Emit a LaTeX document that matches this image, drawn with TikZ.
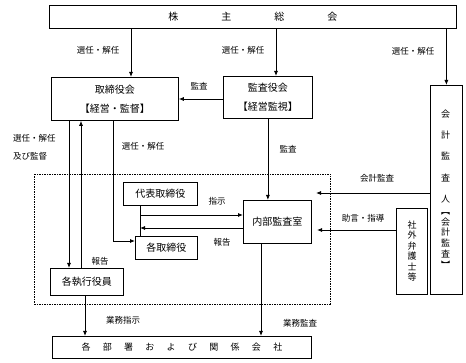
\documentclass[tikz,border=0pt]{standalone}
\usepackage{fontspec}
\newfontfamily\cjk{Noto Sans CJK JP}
\usetikzlibrary{arrows.meta,calc}
\begin{document}
\begin{tikzpicture}[x=1pt,y=-1pt,
  box/.style={draw,line width=0.8pt,inner sep=0pt,anchor=north west,font=\cjk\fontsize{10}{19}\selectfont,align=center},
  lbl/.style={font=\cjk\fontsize{8.5}{10}\selectfont,inner sep=0pt},
  arr/.style={line width=0.8pt,-{Latex[length=5pt,width=4pt]}},
  ln/.style={line width=0.8pt},
  dashbox/.style={line width=0.6pt,dash pattern=on 1.5pt off 1pt}]
\useasboundingbox (0,0) rectangle (466,363);
% boxes
\node[box,minimum width=407pt,minimum height=23pt] (top) at (49,5) {株\hspace{43pt}主\hspace{43pt}総\hspace{43pt}会};
\node[box,minimum width=127pt,minimum height=43pt] (board) at (51,77) {取締役会\\【経営・監督】};
\node[box,minimum width=89pt,minimum height=42pt] (kansa) at (223,76) {監査役会\\【経営監視】};
\node[box,minimum width=32pt,minimum height=209pt] (aud) at (430,85) {};
\node[box,minimum width=31pt,minimum height=86pt] (law) at (396,208) {};
\node[box,minimum width=68pt,minimum height=43pt] (naibu) at (243,200) {内部監査室};
\node[box,minimum width=74pt,minimum height=23pt] (daihyo) at (123,182) {代表取締役};
\node[box,minimum width=62pt,minimum height=23pt] (kaku) at (135,236) {各取締役};
\node[box,minimum width=73pt,minimum height=27pt] (shik) at (50,268) {各執行役員};
\node[box,minimum width=259pt,minimum height=22pt,font=\cjk\fontsize{9}{10}\selectfont] (dept) at (52,336)
  {各\hspace{12.3pt}部\hspace{12.3pt}署\hspace{12.3pt}お\hspace{12.3pt}よ\hspace{12.3pt}び\hspace{12.3pt}関\hspace{12.3pt}係\hspace{12.3pt}会\hspace{12.3pt}社};
\draw[dashbox] (34,174) rectangle (330,304);
% vertical texts
\node[font=\cjk\fontsize{9}{10.8}\selectfont,align=center,inner sep=0pt] (audtxt) at (445.5,189)
  {会\\[10.5pt]計\\[10.5pt]監\\[10.5pt]査\\[10.5pt]人\\[1pt]︻\\会\\計\\監\\査\\︼};
\node[font=\cjk\fontsize{9}{10.5}\selectfont,align=center,inner sep=0pt] (lawtxt) at (412,251)
  {社\\外\\弁\\護\\士\\等};
% helper coordinates
\coordinate (x131) at (131,0);
\coordinate (x276) at (276,0);
\coordinate (x113) at (113,0);
\coordinate (x69) at (69,0);
\coordinate (x81) at (81,0);
\coordinate (x85) at (85,0);
\coordinate (x261) at (261,0);
\coordinate (x140) at (140,0);
\coordinate (y99) at (0,99);
\coordinate (y193) at (0,193);
\coordinate (y230) at (0,230);
\coordinate (y241) at (0,241);
\coordinate (y215) at (0,215);
\coordinate (y228) at (0,228);
\coordinate (e1) at (316,193);
\coordinate (e2) at (317,230);
% connectors
\draw[arr] (top.south -| x131) -- (board.north -| x131);
\draw[arr] (top.south -| x276) -- (kansa.north -| x276);
\draw[arr] (top.south -| aud.north) -- (aud.north);
\draw[arr] (kansa.west |- y99) -- (board.east |- y99);
\draw[arr] (kansa.south) -- (kansa.south |- naibu.north);
\draw[arr] (aud.west |- y193) -- (e1);
\draw[arr] (law.west |- y230) -- (e2);
\draw[arr] (board.south -| x113) -- (x113 |- y241) -- (kaku.west |- y241);
\draw[arr] (board.south -| x69) -- (shik.north -| x69);
\draw[arr] (shik.north -| x81) -- (board.south -| x81);
\draw[arr] (shik.south -| x85) -- (dept.north -| x85);
\draw[arr] (naibu.south -| x261) -- (dept.north -| x261);
\draw[ln] (daihyo.south -| x140) -- (kaku.north -| x140);
\draw[arr] (x140 |- y215) -- (naibu.west |- y215);
\draw[arr] (naibu.west |- y228) -- (x140 |- y228);
% labels
\node[lbl] (l1) at (98,50) {選任・解任};
\node[lbl] (l2) at (243,50) {選任・解任};
\node[lbl] (l3) at (413,51) {選任・解任};
\node[lbl] (l4) at (199,86) {監査};
\node[lbl] (l5) at (288,149) {監査};
\node[lbl] (l6) at (377,178) {会計監査};
\node[lbl] (l7) at (363,218) {助言・指導};
\node[lbl] (l8) at (143,146) {選任・解任};
\node[lbl,anchor=west] (l9) at (13,138) {選任・解任};
\node[lbl,anchor=west] (l10) at (13,156) {及び監督};
\node[lbl] (l11) at (217,201) {指示};
\node[lbl] (l12) at (222,242) {報告};
\node[lbl] (l13) at (100,261) {報告};
\node[lbl] (l14) at (123,320) {業務指示};
\node[lbl] (l15) at (300,323) {業務監査};
\end{tikzpicture}
\end{document}
